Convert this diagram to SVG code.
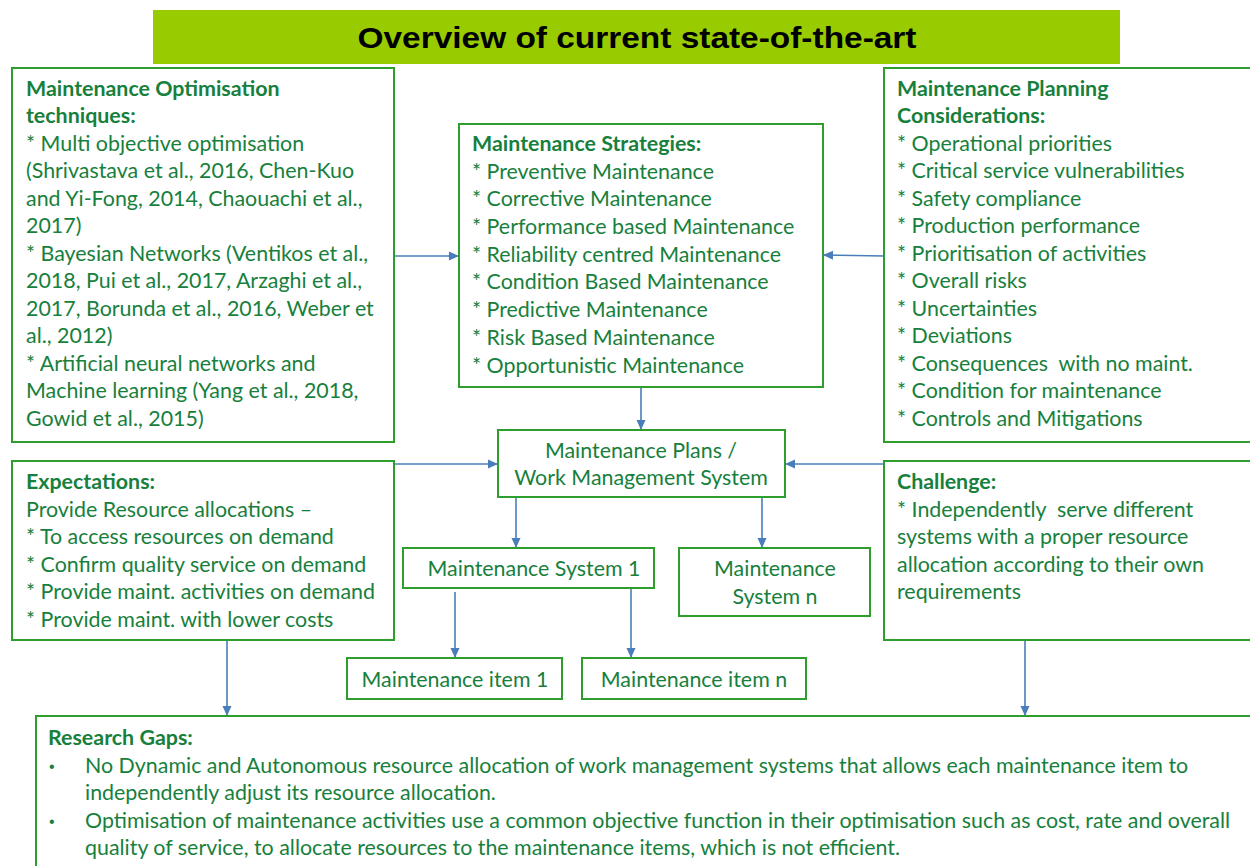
<svg xmlns="http://www.w3.org/2000/svg" width="1250" height="866" viewBox="0 0 1250 866">
  <style>
    .box { fill: #ffffff; stroke: #2e9e2e; stroke-width: 2; }
    .t { font-family: Lato, "Liberation Sans", sans-serif; font-size: 21.4px; fill: #17803c; }
    .b { font-weight: bold; }
    .c { text-anchor: middle; }
    .dot { font-family: "Liberation Sans", sans-serif; font-size: 16px; fill: #17803c; }
    .title { font-family: "Liberation Sans", Arial, sans-serif; font-size: 30px; font-weight: bold; fill: #000000; text-anchor: middle; }
    .edge { stroke: #4a7ebb; stroke-width: 1.6; fill: none; marker-end: url(#arrow); }
  </style>
  <defs>
    <marker id="arrow" viewBox="0 0 10 10" refX="10" refY="5" markerWidth="10" markerHeight="10" markerUnits="userSpaceOnUse" orient="auto">
      <path d="M0,0.5 L10,5 L0,9.5 Z" fill="#4a7ebb"/>
    </marker>
  </defs>
  <rect width="1250" height="866" fill="#ffffff"/>

  <!-- heading banner -->
  <g id="title">
    <rect x="153" y="10" width="967" height="54" fill="#99cc00"/>
    <text class="title" x="637" y="48" textLength="559" lengthAdjust="spacingAndGlyphs">Overview of current state-of-the-art</text>
  </g>

  <!-- connectors -->
  <g id="connectors">
    <line class="edge" x1="394" y1="256" x2="459" y2="256"/>
    <line class="edge" x1="884" y1="256" x2="823" y2="255"/>
    <line class="edge" x1="641" y1="387" x2="641" y2="430"/>
    <line class="edge" x1="394" y1="464" x2="498" y2="464"/>
    <line class="edge" x1="884" y1="464" x2="785" y2="464"/>
    <line class="edge" x1="516" y1="497" x2="516" y2="548"/>
    <line class="edge" x1="762" y1="497" x2="762" y2="548"/>
    <line class="edge" x1="455" y1="592" x2="455" y2="658"/>
    <line class="edge" x1="631" y1="588" x2="631" y2="658"/>
    <line class="edge" x1="227" y1="640" x2="227" y2="716"/>
    <line class="edge" x1="1025" y1="640" x2="1025" y2="716"/>
  </g>

  <g id="optimisation">
    <rect class="box" x="12" y="68" width="382" height="374"/>
    <text class="t b" x="26" y="96">Maintenance Optimisation</text>
    <text class="t b" x="26" y="123">techniques:</text>
    <text class="t" x="26" y="151">* Multi objective optimisation</text>
    <text class="t" x="26" y="178">(Shrivastava et al., 2016, Chen-Kuo</text>
    <text class="t" x="26" y="206">and Yi-Fong, 2014, Chaouachi et al.,</text>
    <text class="t" x="26" y="233">2017)</text>
    <text class="t" x="26" y="261">* Bayesian Networks (Ventikos et al.,</text>
    <text class="t" x="26" y="288">2018, Pui et al., 2017, Arzaghi et al.,</text>
    <text class="t" x="26" y="316">2017, Borunda et al., 2016, Weber et</text>
    <text class="t" x="26" y="343">al., 2012)</text>
    <text class="t" x="26" y="371">* Artificial neural networks and</text>
    <text class="t" x="26" y="398">Machine learning (Yang et al., 2018,</text>
    <text class="t" x="26" y="426">Gowid et al., 2015)</text>
  </g>

  <g id="strategies">
    <rect class="box" x="459" y="124" width="364" height="263"/>
    <text class="t b" x="472" y="151">Maintenance Strategies:</text>
    <text class="t" x="472" y="179">* Preventive Maintenance</text>
    <text class="t" x="472" y="206">* Corrective Maintenance</text>
    <text class="t" x="472" y="234">* Performance based Maintenance</text>
    <text class="t" x="472" y="262">* Reliability centred Maintenance</text>
    <text class="t" x="472" y="289">* Condition Based Maintenance</text>
    <text class="t" x="472" y="317">* Predictive Maintenance</text>
    <text class="t" x="472" y="345">* Risk Based Maintenance</text>
    <text class="t" x="472" y="373">* Opportunistic Maintenance</text>
  </g>

  <g id="planning">
    <rect class="box" x="884" y="68" width="380" height="374"/>
    <text class="t b" x="897" y="96">Maintenance Planning</text>
    <text class="t b" x="897" y="123">Considerations:</text>
    <text class="t" x="897" y="151">* Operational priorities</text>
    <text class="t" x="897" y="178">* Critical service vulnerabilities</text>
    <text class="t" x="897" y="206">* Safety compliance</text>
    <text class="t" x="897" y="233">* Production performance</text>
    <text class="t" x="897" y="261">* Prioritisation of activities</text>
    <text class="t" x="897" y="288">* Overall risks</text>
    <text class="t" x="897" y="316">* Uncertainties</text>
    <text class="t" x="897" y="343">* Deviations</text>
    <text class="t" x="897" y="371" xml:space="preserve">* Consequences  with no maint.</text>
    <text class="t" x="897" y="398">* Condition for maintenance</text>
    <text class="t" x="897" y="426">* Controls and Mitigations</text>
  </g>

  <g id="plans">
    <rect class="box" x="498" y="430" width="287" height="67"/>
    <text class="t c" x="641" y="458">Maintenance Plans /</text>
    <text class="t c" x="641" y="485">Work Management System</text>
  </g>

  <g id="expectations">
    <rect class="box" x="12" y="461" width="382" height="179"/>
    <text class="t b" x="26" y="489">Expectations:</text>
    <text class="t" x="26" y="517">Provide Resource allocations –</text>
    <text class="t" x="26" y="544">* To access resources on demand</text>
    <text class="t" x="26" y="572">* Confirm quality service on demand</text>
    <text class="t" x="26" y="599">* Provide maint. activities on demand</text>
    <text class="t" x="26" y="627">* Provide maint. with lower costs</text>
  </g>

  <g id="challenge">
    <rect class="box" x="884" y="461" width="380" height="179"/>
    <text class="t b" x="897" y="489">Challenge:</text>
    <text class="t" x="897" y="517" xml:space="preserve">* Independently  serve different</text>
    <text class="t" x="897" y="544">systems with a proper resource</text>
    <text class="t" x="897" y="572">allocation according to their own</text>
    <text class="t" x="897" y="599">requirements</text>
  </g>

  <g id="system-1">
    <rect class="box" x="403" y="548" width="251" height="40"/>
    <text class="t c" x="534" y="576">Maintenance System 1</text>
  </g>

  <g id="system-n">
    <rect class="box" x="679" y="548" width="191" height="68"/>
    <text class="t c" x="775" y="576">Maintenance</text>
    <text class="t c" x="775" y="604">System n</text>
  </g>

  <g id="item-1">
    <rect class="box" x="347" y="658" width="215" height="41"/>
    <text class="t c" x="455" y="687">Maintenance item 1</text>
  </g>

  <g id="item-n">
    <rect class="box" x="582" y="658" width="224" height="41"/>
    <text class="t c" x="694" y="687">Maintenance item n</text>
  </g>

  <g id="research-gaps">
    <rect class="box" x="36" y="716" width="1230" height="170"/>
    <text class="t b" x="48" y="745">Research Gaps:</text>
    <text class="dot" x="49" y="772">•</text>
    <text class="t" x="85" y="773">No Dynamic and Autonomous resource allocation of work management systems that allows each maintenance item to</text>
    <text class="t" x="85" y="800">independently adjust its resource allocation.</text>
    <text class="dot" x="49" y="827">•</text>
    <text class="t" x="85" y="828">Optimisation of maintenance activities use a common objective function in their optimisation such as cost, rate and overall</text>
    <text class="t" x="85" y="855">quality of service, to allocate resources to the maintenance items, which is not efficient.</text>
  </g>
</svg>
